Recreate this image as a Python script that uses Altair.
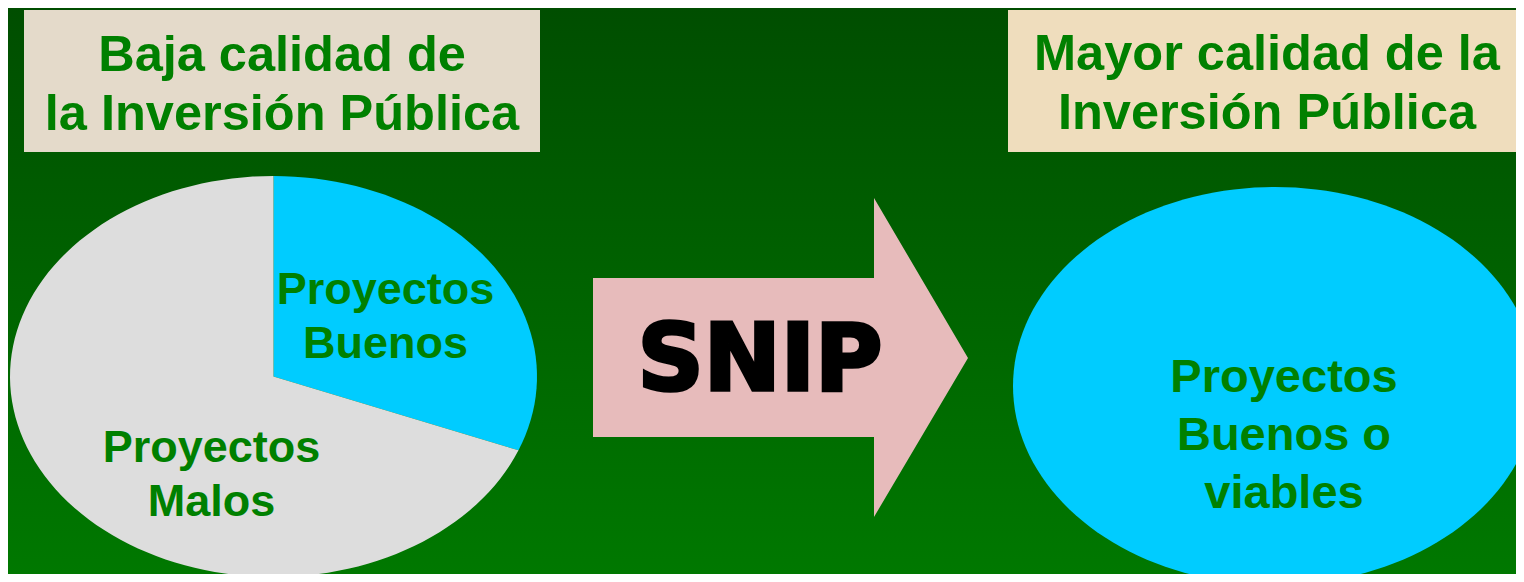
import math
import altair as alt
import pandas as pd

# ---------------- data ----------------
pie_labels = ["Proyectos Buenos", "Proyectos Malos"]
pie_shares = [31, 69]
pie_colors = ["#00CCFF", "#DDDDDD"]

after_labels = ["Proyectos Buenos o viables"]
after_shares = [100]
after_colors = ["#00CCFF"]

left_title_lines = ["Baja calidad de", "la Inversión Pública"]
right_title_lines = ["Mayor calidad de la", "Inversión Pública"]
buenos_lines = ["Proyectos", "Buenos"]
malos_lines = ["Proyectos", "Malos"]
viables_lines = ["Proyectos", "Buenos o", "viables"]
arrow_label = "SNIP"

# ---------------- layout (page pixel coordinates) ----------------
PAGE_X = (8, 1516)
PAGE_Y = (8, 574)
LEFT_PIE = dict(cx=273.5, cy=376.5, rx=263.5, ry=200.5)
RIGHT_PIE = dict(cx=1275, cy=386, rx=262, ry=199)
BOXES = [
    dict(x0=24, x1=540, y0=10, y1=152, color="#E4DACA"),
    dict(x0=1008, x1=1530, y0=10, y1=152, color="#EFDDBD"),
]
ARROW = dict(x=593, y=358, body_len=281, body_top=-80, body_bot=79,
             head_top=-160, head_bot=159, tip=375, color="#E7BBBB")
GREEN = "#008000"
FONT = "Liberation Sans"

XS = alt.Scale(domain=list(PAGE_X), nice=False, zero=False)
YS = alt.Scale(domain=[PAGE_Y[1], PAGE_Y[0]], nice=False, zero=False)


def slice_path(rx, ry, f0, f1, n=160):
    full = (f1 - f0) >= 0.9999
    steps = max(4, int(n * (f1 - f0)))
    pts = []
    for i in range(steps + 1):
        t = 2 * math.pi * (f0 + (f1 - f0) * i / steps)
        pts.append(f"{rx * math.sin(t):.2f},{-ry * math.cos(t):.2f}")
    if full:
        return "M" + " L".join(pts) + " Z"
    return "M0,0 L" + " L".join(pts) + " Z"


def pie_layers(labels, shares, colors, geom):
    total = sum(shares)
    acc = 0.0
    layers = []
    for lab, s, col in zip(labels, shares, colors):
        f0 = acc / total
        acc += s
        f1 = acc / total
        path = slice_path(geom["rx"], geom["ry"], f0, f1)
        df = pd.DataFrame([dict(label=lab, share=s, x=geom["cx"], y=geom["cy"])])
        layers.append(
            alt.Chart(df).mark_point(
                shape=path, filled=True, opacity=1, clip=True, strokeWidth=0, size=4, color=col
            ).encode(
                x=alt.X("x:Q", scale=XS, axis=None),
                y=alt.Y("y:Q", scale=YS, axis=None),
                tooltip=["label:N", "share:Q"],
            )
        )
    return layers


# background gradient
bg = alt.Chart(pd.DataFrame([dict(x0=PAGE_X[0], x1=PAGE_X[1], y0=PAGE_Y[0], y1=PAGE_Y[1])])).mark_rect(
    color={"gradient": "linear", "x1": 0, "x2": 0, "y1": 0, "y2": 1,
           "stops": [{"offset": 0, "color": "#004E00"}, {"offset": 1, "color": "#007800"}]}
).encode(
    x=alt.X("x0:Q", scale=XS, axis=None), x2="x1:Q",
    y=alt.Y("y0:Q", scale=YS, axis=None), y2="y1:Q",
)

boxes = alt.Chart(pd.DataFrame(BOXES)).mark_rect(clip=True).encode(
    x=alt.X("x0:Q", scale=XS, axis=None), x2="x1:Q",
    y=alt.Y("y0:Q", scale=YS, axis=None), y2="y1:Q",
    color=alt.Color("color:N", scale=None),
)

left_pie = pie_layers(pie_labels, pie_shares, pie_colors, LEFT_PIE)
right_pie = pie_layers(after_labels, after_shares, after_colors, RIGHT_PIE)

a = ARROW
arrow_path = (f"M0,{a['body_top']} L{a['body_len']},{a['body_top']} L{a['body_len']},{a['head_top']} "
              f"L{a['tip']},0 L{a['body_len']},{a['head_bot']} L{a['body_len']},{a['body_bot']} "
              f"L0,{a['body_bot']} Z")
arrow = alt.Chart(pd.DataFrame([dict(x=a["x"], y=a["y"])])).mark_point(
    shape=arrow_path, filled=True, opacity=1, color=a["color"], strokeWidth=0, size=4
).encode(
    x=alt.X("x:Q", scale=XS, axis=None),
    y=alt.Y("y:Q", scale=YS, axis=None),
)

text_rows = []
def add_lines(lines, cx, y0, step, size, color=GREEN):
    for i, t in enumerate(lines):
        text_rows.append(dict(text=t, x=cx, y=y0 + i * step, size=size, color=color))

add_lines(left_title_lines, 282, 71, 59, 50.5)
add_lines(right_title_lines, 1267, 70, 59, 50.5)
add_lines(buenos_lines, 385.5, 304, 54, 45)
add_lines(malos_lines, 211.5, 462, 54, 45)
add_lines(viables_lines, 1284, 392, 58, 47)

texts = alt.Chart(pd.DataFrame(text_rows)).mark_text(
    align="center", baseline="alphabetic", font=FONT, fontWeight="bold"
).encode(
    x=alt.X("x:Q", scale=XS, axis=None),
    y=alt.Y("y:Q", scale=YS, axis=None),
    text="text:N",
    size=alt.Size("size:Q", scale=None, legend=None),
    color=alt.Color("color:N", scale=None),
)

snip = alt.Chart(pd.DataFrame([dict(text=arrow_label, x=760, y=390)])).mark_text(
    align="center", baseline="alphabetic", font="DejaVu Sans", fontWeight="bold",
    fontSize=92, color="#000000", stroke="#000000", strokeWidth=3.5
).encode(
    x=alt.X("x:Q", scale=XS, axis=None),
    y=alt.Y("y:Q", scale=YS, axis=None),
    text="text:N",
)

chart = alt.layer(bg, boxes, *left_pie, *right_pie, arrow, texts, snip).properties(
    width=PAGE_X[1] - PAGE_X[0], height=PAGE_Y[1] - PAGE_Y[0], padding=0,
    background="#006400", autosize="none"
).configure_view(stroke=None)

chart.save("out.html", embed_options={"renderer": "svg", "actions": False})
